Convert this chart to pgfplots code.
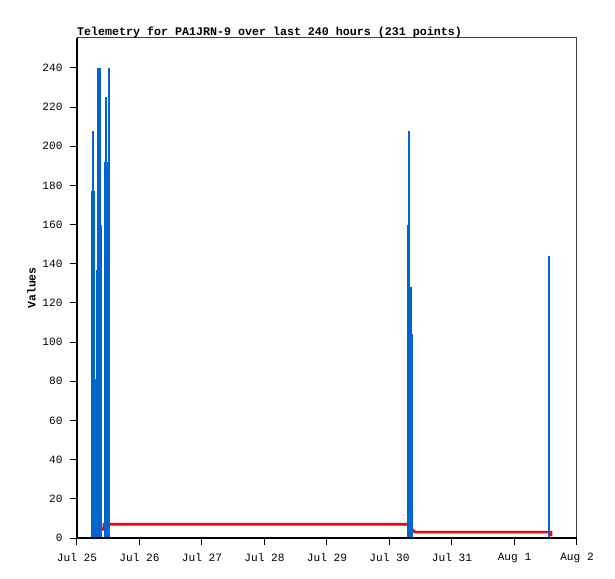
\documentclass[border=0pt]{standalone}
\usepackage{pgfplots}
\pgfplotsset{compat=1.18}
\usepackage{fontspec}
\setmainfont{Liberation Mono}
\definecolor{tblue}{RGB}{0,102,204}
\definecolor{tred}{RGB}{255,0,0}
\begin{document}
\begin{tikzpicture}
\useasboundingbox (-77bp,-41bp) rectangle (538bp,538bp);
\begin{axis}[
  at={(0,0)}, anchor=south west,
  scale only axis, width=500bp, height=500bp,
  xmin=0, xmax=8, ymin=0, ymax=255.3,
  xtick={0,1,2,3,4,5,6,7,8},
  xticklabels={Jul 25,Jul 26,Jul 27,Jul 28,Jul 29,Jul 30,Jul 31,Aug 1,Aug 2},
  ytick={0,20,...,240},
  tick align=outside, major tick length=7bp,
  xtick pos=bottom, ytick pos=left,
  tick style={black, line width=1bp},
  minor tick num=0,
  axis line style={draw=none},
  ticklabel style={font=\fontsize{11.2}{13}\selectfont},
  xticklabel style={yshift=-5bp},
  yticklabel style={xshift=-4bp},
  /pgf/number format/assume math mode=true,
  ylabel={Values},
  ylabel style={at={(axis description cs:-0.091,0.5)}, anchor=center, font=\bfseries\fontsize{11.5}{13}\selectfont},
  title={Telemetry for PA1JRN-9 over last 240 hours (231 points)},
  title style={at={(axis description cs:0,1)}, anchor=base west, yshift=-3bp, inner sep=0pt, font=\bfseries\fontsize{11.7}{13}\selectfont},
  clip=false,
]
\addplot[tred, line width=2.7bp, line join=miter] coordinates {
  (0.392,4.5) (0.424,4.5) (0.432,7) (5.28,7) (5.376,4) (5.408,3) (7.584,3) (7.584,1)
};
\addplot[ycomb, tblue, line width=2bp] coordinates {
  (0.240,177) (0.256,208) (0.272,177) (0.296,81) (0.3168,137)
  (0.336,240) (0.368,240) (0.3872,160)
  (0.448,192) (0.464,225) (0.480,192) (0.512,240)
  (5.296,160) (5.312,208) (5.339,128) (5.355,104)
  (7.552,144)
};
\draw[black, line width=1.2bp] (rel axis cs:0,0) -- (rel axis cs:0,1);
\draw[darkgray, line width=1bp] (rel axis cs:0,1) -- (rel axis cs:1,1) -- (rel axis cs:1,0);
\draw[black, line width=2bp] (rel axis cs:0,0) -- (rel axis cs:1,0);
\end{axis}
\end{tikzpicture}
\end{document}
